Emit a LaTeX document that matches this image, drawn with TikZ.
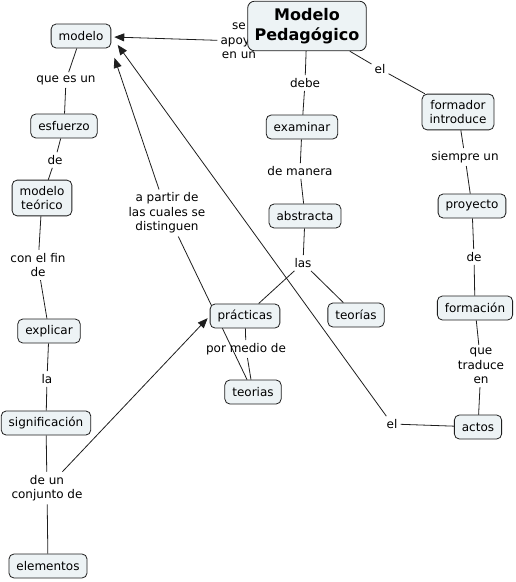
\documentclass[tikz,border=0pt]{standalone}
\usepackage{fontspec}
\setmainfont{DejaVu Sans}
\usetikzlibrary{arrows.meta,backgrounds}
\definecolor{cfill}{RGB}{237,243,245}
\definecolor{cline}{RGB}{30,30,30}
\begin{document}
\begin{tikzpicture}[x=1pt,y=-1pt,
 concept/.style={draw=cline, fill=cfill, rounded corners=5pt, line width=0.8pt, inner xsep=7.5pt, inner ysep=6pt, minimum height=24pt, align=center, font=\fontsize{12}{14.5}\selectfont},
 titlebox/.style={concept, font=\bfseries\fontsize{16}{20}\selectfont, inner xsep=7pt, inner ysep=7pt, rounded corners=7pt},
 lab/.style={inner sep=3pt, align=center, font=\fontsize{12}{14.5}\selectfont},
 link/.style={draw=cline, line width=0.8pt},
 arr/.style={link, -{Triangle[length=10pt,width=8pt]}}]
\useasboundingbox (0,0) rectangle (515,582);
% link labels
\node[lab] (l1) at (239,41) {se\\apoya\\en un};
\node[lab] (l2) at (66,80) {que es un};
\node[lab] (l3) at (55,160) {de};
\node[lab] (l4) at (38,265) {con el fin\\de};
\node[lab] (l5) at (47,379) {la};
\node[lab] (l6) at (47,488) {de un\\conjunto de};
\node[lab] (l7) at (167,213) {a partir de\\las cuales se\\distinguen};
\node[lab] (l8) at (305,83) {debe};
\node[lab] (l9) at (300,171) {de manera};
\node[lab] (l10) at (303,263) {las};
\node[lab] (l11) at (380,69) {el};
\node[lab] (l12) at (465,157) {siempre un};
\node[lab] (l13) at (474,257) {de};
\node[lab] (l14) at (481,366) {que\\traduce\\en};
\node[lab] (l15) at (246,349) {por medio de};
\node[lab] (l16) at (392,424) {el};
% concepts
\node[titlebox] (mp) at (307,26) {Modelo\\Pedagógico};
\node[concept] (modelo) at (81,36) {modelo};
\node[concept] (esfuerzo) at (64,126) {esfuerzo};
\node[concept] (mteo) at (42,198) {modelo\\teórico};
\node[concept] (explicar) at (49,331) {explicar};
\node[concept] (signif) at (46,423) {significación};
\node[concept] (elementos) at (48,566) {elementos};
\node[concept] (examinar) at (302,127) {examinar};
\node[concept] (abstracta) at (305,216) {abstracta};
\node[concept] (formador) at (458,112) {formador\\introduce};
\node[concept] (proyecto) at (472,206) {proyecto};
\node[concept] (formacion) at (475,308) {formación};
\node[concept] (actos) at (478,427) {actos};
\node[concept] (practicas) at (245,316) {prácticas};
\node[concept] (teorias1) at (356,315) {teorías};
\node[concept] (teorias2) at (253,392) {teorias};
% connectors
\begin{pgfonlayer}{background}
\draw[arr, shorten >=3pt] (l1) -- (modelo);
\draw[link] (modelo) -- (l2);
\draw[link] (l2) -- (esfuerzo);
\draw[link] (esfuerzo) -- (l3);
\draw[link] (l3) -- (mteo);
\draw[link] (mteo) -- (l4);
\draw[link] (l4) -- (explicar);
\draw[link] (explicar) -- (l5);
\draw[link] (l5) -- (signif);
\draw[link] (signif) -- (l6);
\draw[link] (l6) -- (elementos);
\draw[arr, shorten >=3pt] (l6) -- (practicas.west);
\draw[link] (teorias2) -- (l7);
\draw[arr, shorten >=10pt] (l7) -- (modelo.south east);
\draw[link] (mp) -- (l8);
\draw[link] (l8) -- (examinar);
\draw[link] (examinar) -- (l9);
\draw[link] (l9) -- (abstracta);
\draw[link] (abstracta) -- (l10);
\draw[link] (l10) -- (practicas);
\draw[link] (l10) -- (teorias1);
\draw[link] (mp) -- (l11);
\draw[link] (l11) -- (formador);
\draw[link] (formador) -- (l12);
\draw[link] (l12) -- (proyecto);
\draw[link] (proyecto) -- (l13);
\draw[link] (l13) -- (formacion);
\draw[link] (formacion) -- (l14);
\draw[link] (l14) -- (actos);
\draw[link] (actos) -- (l16);
\draw[arr, shorten >=11pt] (l16) -- (modelo.east);
\draw[link] (practicas) -- (l15);
\draw[link] (l15) -- (teorias2);
\end{pgfonlayer}
\end{tikzpicture}
\end{document}
